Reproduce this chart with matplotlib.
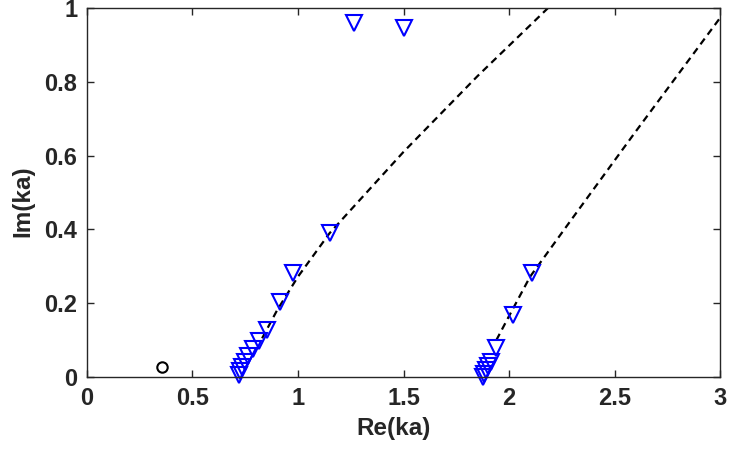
import matplotlib
matplotlib.use("Agg")
import matplotlib.pyplot as plt

plt.rcParams['font.family'] = ['Liberation Sans', 'DejaVu Sans']

# Data
tri_re = [0.976, 0.915, 0.853, 0.815, 0.787, 0.763, 0.749, 0.735, 0.725, 0.720,
          1.152, 1.265, 1.502,
          2.109, 2.020, 1.938, 1.913, 1.902, 1.891, 1.882, 1.878]
tri_im = [0.282, 0.203, 0.127, 0.098, 0.076, 0.057, 0.041, 0.027, 0.016, 0.005,
          0.390, 0.959, 0.946,
          0.282, 0.168, 0.078, 0.041, 0.030, 0.019, 0.008, 0.001]
circ_re = [0.357]
circ_im = [0.028]
line1_re = [0.83, 0.90, 1.00, 1.15, 1.50, 1.85, 2.185]
line1_im = [0.105, 0.18, 0.272, 0.39, 0.61, 0.815, 1.0]
line2_re = [1.94, 2.00, 2.10, 2.30, 2.60, 3.00]
line2_im = [0.10, 0.165, 0.272, 0.43, 0.665, 0.973]
xticks = [0, 0.5, 1, 1.5, 2, 2.5, 3]
yticks = [0, 0.2, 0.4, 0.6, 0.8, 1]
xticklabels = ['0', '0.5', '1', '1.5', '2', '2.5', '3']
yticklabels = ['0', '0.2', '0.4', '0.6', '0.8', '1']

fig = plt.figure(figsize=(7.29, 4.51), dpi=100)
ax = fig.add_axes([0.1193, 0.164, 0.8684, 0.8183])

tc = '#262626'
ax.plot(line1_re, line1_im, color='k', linestyle=(0, (3.2, 2.2)), linewidth=1.6)
ax.plot(line2_re, line2_im, color='k', linestyle=(0, (3.2, 2.2)), linewidth=1.6)
ax.plot(tri_re, tri_im, linestyle='none', marker='v', markersize=11,
        markerfacecolor='none', markeredgecolor='#0000ff', markeredgewidth=1.5,
        clip_on=False)
ax.plot(circ_re, circ_im, linestyle='none', marker='o', markersize=7.5,
        markerfacecolor='none', markeredgecolor='k', markeredgewidth=1.5)

ax.set_xlim(0, 3)
ax.set_ylim(0, 1)
ax.set_xticks(xticks)
ax.set_yticks(yticks)
ax.set_xticklabels(xticklabels)
ax.set_yticklabels(yticklabels)
ax.tick_params(direction='in', top=True, right=True, length=5, width=1,
               color=tc, labelcolor=tc, labelsize=17)
ax.tick_params(axis='x', pad=7.5)
ax.tick_params(axis='y', pad=7)
for lab in ax.get_xticklabels() + ax.get_yticklabels():
    lab.set_fontweight('bold')
for s in ax.spines.values():
    s.set_color(tc)
    s.set_linewidth(1)
ax.set_xlabel('Re(ka)', fontsize=17.5, fontweight='bold', color=tc)
ax.set_ylabel('Im(ka)', fontsize=17.5, fontweight='bold', color=tc)
ax.xaxis.set_label_coords(0.485, -0.108, transform=ax.transAxes)
ax.xaxis.label.set_verticalalignment('top')
ax.yaxis.set_label_coords(-0.083, 0.476, transform=ax.transAxes)

fig.savefig('out.png', dpi=100)
